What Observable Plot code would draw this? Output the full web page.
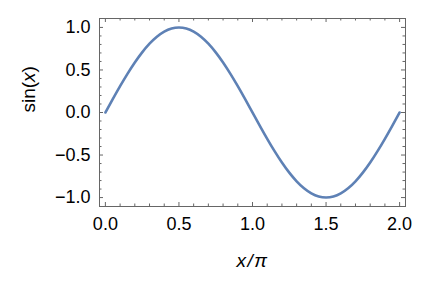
<!DOCTYPE html>
<html><head><meta charset="utf-8">
<script src="https://cdn.jsdelivr.net/npm/d3@7"></script>
<script src="https://cdn.jsdelivr.net/npm/@observablehq/plot@0.6"></script>
<style>
body{margin:0;background:#fff}
svg{font-family:"Liberation Sans",Arial,sans-serif}
</style>
</head><body><div id="chart"></div>
<script>
const xOverPi = [0,0.05,0.1,0.15,0.2,0.25,0.3,0.35,0.4,0.45,0.5,0.55,0.6,0.65,0.7,0.75,0.8,0.85,0.9,0.95,1,
  1.05,1.1,1.15,1.2,1.25,1.3,1.35,1.4,1.45,1.5,1.55,1.6,1.65,1.7,1.75,1.8,1.85,1.9,1.95,2];
const sinValues = [0,0.156,0.309,0.454,0.588,0.707,0.809,0.891,0.951,0.988,1.0,0.988,0.951,0.891,0.809,0.707,0.588,0.454,0.309,0.156,0,
  -0.156,-0.309,-0.454,-0.588,-0.707,-0.809,-0.891,-0.951,-0.988,-1.0,-0.988,-0.951,-0.891,-0.809,-0.707,-0.588,-0.454,-0.309,-0.156,0];
const xMajorTicks = [0,0.5,1,1.5,2];
const yMajorTicks = [-1,-0.5,0,0.5,1];
const xMinorTicks = [0.1,0.2,0.3,0.4,0.6,0.7,0.8,0.9,1.1,1.2,1.3,1.4,1.6,1.7,1.8,1.9];
const yMinorTicks = [-0.9,-0.8,-0.7,-0.6,-0.4,-0.3,-0.2,-0.1,0.1,0.2,0.3,0.4,0.6,0.7,0.8,0.9];
const xLabel = "x/π";
const yLabel = "sin(x)";

const W = 434, H = 306, mL = 99, mR = 29, mT = 18, mB = 100;
const frameW = W - mL - mR, frameH = H - mT - mB;
const majorLen = 4, minorLen = 2.5;
const data = xOverPi.map((x, i) => ({x, y: sinValues[i]}));
const frameColor = "#666";
const fmt = d3.format(".1f");

function xTicks(values, len) {
  return [
    Plot.ruleX(values, {x: d => d, insetTop: frameH - len, stroke: frameColor}),
    Plot.ruleX(values, {x: d => d, insetBottom: frameH - len, stroke: frameColor})
  ];
}
function yTicks(values, len) {
  return [
    Plot.ruleY(values, {y: d => d, insetRight: frameW - len, stroke: frameColor}),
    Plot.ruleY(values, {y: d => d, insetLeft: frameW - len, stroke: frameColor})
  ];
}

const chart = Plot.plot({
  width: W,
  height: H,
  marginLeft: mL,
  marginRight: mR,
  marginTop: mT,
  marginBottom: mB,
  style: {fontFamily: "'Liberation Sans', Arial, sans-serif", background: "#fff", color: "#000"},
  x: {domain: [-0.04, 2.04]},
  y: {domain: [-1.105, 1.105]},
  marks: [
    ...xTicks(xMajorTicks, majorLen),
    ...xTicks(xMinorTicks, minorLen),
    ...yTicks(yMajorTicks, majorLen),
    ...yTicks(yMinorTicks, minorLen),
    Plot.line(data, {x: "x", y: "y", stroke: "#5E81B5", strokeWidth: 2.6, curve: "natural"}),
    Plot.frame({stroke: frameColor}),
    Plot.axisX({anchor: "bottom", ticks: xMajorTicks, tickSize: 0, tickPadding: 11, tickFormat: fmt, fontSize: 18, label: null}),
    Plot.axisY({anchor: "left", ticks: yMajorTicks, tickSize: 0, tickPadding: 9, tickFormat: fmt, fontSize: 18, label: null}),
    Plot.text([yLabel], {text: d => d, frameAnchor: "left", dx: -71, rotate: -90, fontSize: 19, fill: "#000"}),
    Plot.text([xLabel], {text: d => d, frameAnchor: "bottom", dy: 60, fontSize: 19, fill: "#000"})
  ]
});
document.getElementById("chart").appendChild(chart);
chart.querySelectorAll("text").forEach(t => {
  if (t.textContent === yLabel) t.innerHTML = 'sin(<tspan font-style="italic">x</tspan>)';
  else if (t.textContent === xLabel) {
    t.setAttribute("font-style", "italic");
    t.setAttribute("letter-spacing", "1.5");
  }
});
</script>
</body></html>
